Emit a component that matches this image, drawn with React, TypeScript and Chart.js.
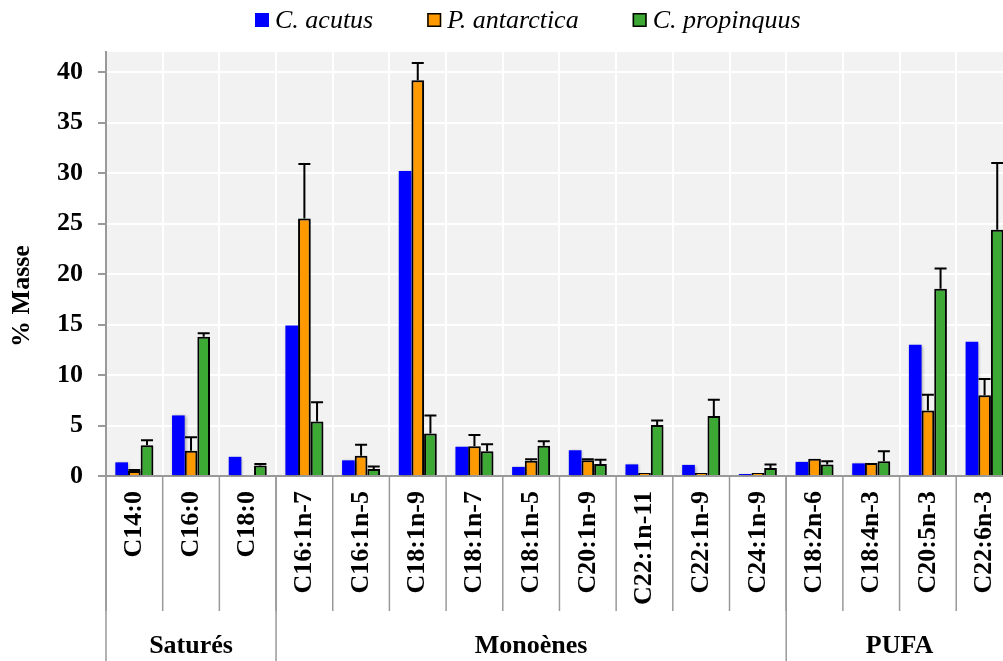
import React, { useEffect, useRef } from "react";
import { Chart, registerables } from "chart.js";

Chart.register(...registerables);

const categories = [
  "C14:0", "C16:0", "C18:0",
  "C16:1n-7", "C16:1n-5", "C18:1n-9", "C18:1n-7", "C18:1n-5", "C20:1n-9", "C22:1n-11", "C22:1n-9", "C24:1n-9",
  "C18:2n-6", "C18:4n-3", "C20:5n-3", "C22:6n-3",
];
const groupNames = ["Saturés", "Monoènes", "PUFA"];
const groupSizes = [3, 9, 4];

const acutus = [1.35, 6.0, 1.9, 14.9, 1.55, 30.2, 2.9, 0.9, 2.55, 1.15, 1.1, 0.2, 1.4, 1.25, 13.0, 13.3];
const antarctica = [0.5, 2.5, 0.1, 25.5, 2.0, 39.2, 2.95, 1.5, 1.55, 0.3, 0.3, 0.3, 1.7, 1.3, 6.5, 8.0];
const antarcticaErr = [0.1, 1.35, 0, 5.4, 1.1, 1.7, 1.1, 0.15, 0.1, 0, 0, 0, 0, 0, 1.55, 1.6];
const propinquus = [3.05, 13.8, 1.05, 5.4, 0.7, 4.2, 2.45, 3.0, 1.2, 5.05, 5.95, 0.8, 1.15, 1.45, 18.55, 24.4];
const propinquusErr = [0.5, 0.35, 0.15, 1.9, 0.25, 1.8, 0.7, 0.45, 0.4, 0.45, 1.6, 0.35, 0.3, 1.0, 2.0, 6.6];

const yTickValues = [0, 5, 10, 15, 20, 25, 30, 35, 40];
const yMax = 42;

const SERIF = "'Liberation Serif', 'Times New Roman', serif";
const FS = 26;
const BLUE = "#0000FF";
const ORANGE = "#FF9900";
const GREEN = "#3CA935";

const bgPlugin = {
  id: "plotBg",
  beforeDraw(chart: any) {
    const { ctx, chartArea } = chart;
    ctx.save();
    ctx.fillStyle = "#F2F2F2";
    ctx.fillRect(chartArea.left, chartArea.top, chartArea.right - chartArea.left, chartArea.bottom - chartArea.top);
    ctx.restore();
  },
};

const shadowPlugin = {
  id: "barShadow",
  beforeDatasetDraw(chart: any) {
    const ctx = chart.ctx;
    ctx.save();
    ctx.shadowColor = "rgba(0,0,0,0.35)";
    ctx.shadowBlur = 3;
    ctx.shadowOffsetX = 1;
    ctx.shadowOffsetY = 1;
  },
  afterDatasetDraw(chart: any) {
    chart.ctx.restore();
  },
};

const errorPlugin = {
  id: "errBars",
  afterDatasetsDraw(chart: any) {
    const { ctx } = chart;
    const yScale = chart.scales.y;
    chart.data.datasets.forEach((ds: any, di: number) => {
      if (!ds.errors) return;
      const meta = chart.getDatasetMeta(di);
      meta.data.forEach((bar: any, j: number) => {
        const e = ds.errors[j];
        if (!e) return;
        const v = ds.data[j];
        const yTop = yScale.getPixelForValue(v + e);
        const yBase = yScale.getPixelForValue(v);
        ctx.save();
        ctx.strokeStyle = "#000";
        ctx.lineWidth = 2;
        ctx.beginPath();
        ctx.moveTo(bar.x, yBase);
        ctx.lineTo(bar.x, yTop);
        ctx.moveTo(bar.x - 6, yTop);
        ctx.lineTo(bar.x + 6, yTop);
        ctx.stroke();
        ctx.restore();
      });
    });
  },
};

const axisDecorPlugin = {
  id: "axisDecor",
  afterDraw(chart: any) {
    const { ctx, chartArea } = chart;
    const x = chart.scales.x;
    const n = categories.length;
    const step = (x.right - x.left) / n;
    const bottom = chart.height;
    const sepBottom = chartArea.bottom + 135;
    ctx.save();
    ctx.strokeStyle = "#999";
    ctx.lineWidth = 1.5;
    for (let i = 0; i <= n; i++) {
      const px = x.left + i * step;
      ctx.beginPath();
      ctx.moveTo(px, chartArea.bottom);
      ctx.lineTo(px, sepBottom);
      ctx.stroke();
    }
    let idx = 0;
    ctx.fillStyle = "#000";
    ctx.font = `bold ${FS}px ${SERIF}`;
    ctx.textAlign = "center";
    ctx.textBaseline = "middle";
    const bounds = [0];
    groupSizes.forEach((s) => { idx += s; bounds.push(idx); });
    bounds.forEach((b) => {
      const px = x.left + b * step;
      ctx.beginPath();
      ctx.moveTo(px, chartArea.bottom);
      ctx.lineTo(px, bottom);
      ctx.stroke();
    });
    groupNames.forEach((g, gi) => {
      const cx = x.left + ((bounds[gi] + bounds[gi + 1]) / 2) * step;
      ctx.fillText(g, cx, chartArea.bottom + 170);
    });
    ctx.save();
    ctx.translate(22, 296);
    ctx.rotate(-Math.PI / 2);
    ctx.fillText("% Masse", 0, 0);
    ctx.restore();
    const items = [
      { label: "C. acutus", color: BLUE, border: false },
      { label: "P. antarctica", color: ORANGE, border: true },
      { label: "C. propinquus", color: GREEN, border: true },
    ];
    ctx.font = `italic ${FS}px ${SERIF}`;
    ctx.textAlign = "left";
    let lx = 255;
    const ly = 20;
    items.forEach((it) => {
      ctx.fillStyle = it.color;
      ctx.fillRect(lx, ly - 7, 14, 14);
      if (it.border) {
        ctx.strokeStyle = "#000";
        ctx.lineWidth = 1.5;
        ctx.strokeRect(lx + 0.75, ly - 6.25, 12.5, 12.5);
      }
      ctx.fillStyle = "#000";
      ctx.fillText(it.label, lx + 20, ly + 1);
      lx += 20 + ctx.measureText(it.label).width + 54;
    });
    ctx.restore();
  },
};

export default function App() {
  const ref = useRef<HTMLCanvasElement | null>(null);

  useEffect(() => {
    document.body.style.margin = "0";
    document.body.style.overflow = "hidden";
    let chart: Chart | null = null;
    let cancelled = false;
    const build = () => {
      const canvas = ref.current;
      if (!canvas || cancelled) return;
      chart = new Chart(canvas, {
        type: "bar",
        data: {
          labels: categories,
          datasets: [
            { label: "C. acutus", data: acutus, backgroundColor: BLUE, borderWidth: 0 },
            { label: "P. antarctica", data: antarctica, backgroundColor: ORANGE, borderColor: "#000", borderWidth: 2, errors: antarcticaErr } as any,
            { label: "C. propinquus", data: propinquus, backgroundColor: GREEN, borderColor: "#000", borderWidth: 2, errors: propinquusErr } as any,
          ],
        },
        options: {
          responsive: false,
          animation: false,
          devicePixelRatio: 1,
          layout: { padding: { top: 52, right: 7, left: 0, bottom: 0 } },
          datasets: { bar: { categoryPercentage: 0.67, barPercentage: 1.0 } },
          plugins: { legend: { display: false }, tooltip: { enabled: false }, title: { display: false } },
          scales: {
            x: {
              grid: { color: "#FFFFFF", lineWidth: 2, offset: true, drawTicks: false },
              border: { color: "#999", width: 2 },
              ticks: {
                autoSkip: false,
                maxRotation: 90,
                minRotation: 90,
                padding: 15,
                color: "#000",
                font: { family: SERIF, size: FS, weight: "bold" },
              },
              afterFit: (s: any) => { s.height = 185; },
            },
            y: {
              min: 0,
              max: yMax,
              grid: { color: (c: any) => (c.tick && c.tick.value === 0 ? "#999" : "#FFFFFF"), lineWidth: 2, tickColor: "#999", tickLength: 8 },
              border: { color: "#999", width: 2 },
              afterBuildTicks: (s: any) => { s.ticks = yTickValues.map((v) => ({ value: v })); },
              ticks: {
                padding: 15,
                color: "#000",
                font: { family: SERIF, size: FS, weight: "bold" },
              },
              afterFit: (s: any) => { s.width = 106; },
            },
          },
        },
        plugins: [bgPlugin, shadowPlugin, errorPlugin, axisDecorPlugin],
      });
    };
    const fonts: any = (document as any).fonts;
    if (fonts && fonts.load) {
      Promise.all([
        fonts.load(`bold ${FS}px "Liberation Serif"`),
        fonts.load(`italic ${FS}px "Liberation Serif"`),
      ]).then(build, build);
    } else {
      build();
    }
    return () => {
      cancelled = true;
      if (chart) chart.destroy();
    };
  }, []);

  return (
    <div style={{ width: 1003, height: 661, overflow: "hidden", background: "#fff" }}>
      <canvas ref={ref} width={1031} height={661} style={{ display: "block" }} />
    </div>
  );
}
